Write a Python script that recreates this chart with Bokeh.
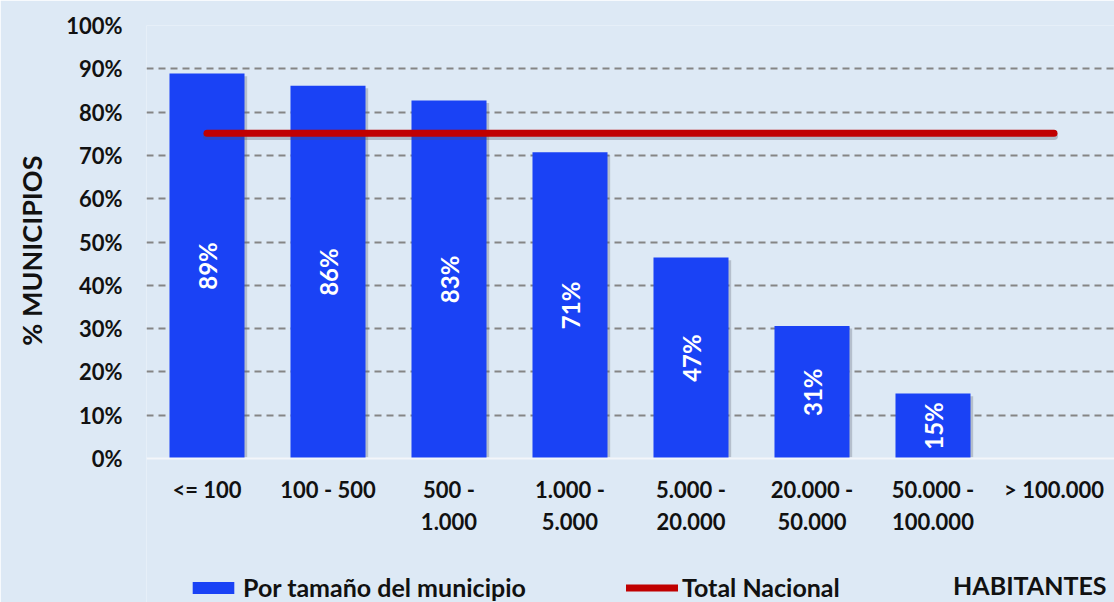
import numpy as np
from bokeh.plotting import figure
from bokeh.models import (Range1d, FixedTicker, Label, Legend, LegendItem,
                          ColumnDataSource, Span, Title)
from bokeh.core.properties import value
from bokeh.embed import file_html
from bokeh.resources import INLINE

# ---- data ----
categories = ["<= 100", "100 - 500", "500 -\n1.000", "1.000 -\n5.000",
              "5.000 -\n20.000", "20.000 -\n50.000", "50.000 -\n100.000", "> 100.000"]
por_tamano = [88.9, 86.1, 82.7, 70.7, 46.4, 30.6, 15.0]      # % municipios (no bar for > 100.000)
bar_labels = ["89%", "86%", "83%", "71%", "47%", "31%", "15%"]
total_nacional = 75.1
y_ticks = [0, 10, 20, 30, 40, 50, 60, 70, 80, 90, 100]
y_tick_labels = ["0%", "10%", "20%", "30%", "40%", "50%", "60%", "70%", "80%", "90%", "100%"]

FONT = "Lato"
BG = "#dde9f5"
BLUE = "#1a42f5"
RED = "#c00000"
TXT = "#111111"

W, H = 1114, 602
LEFT, TOP = 146, 25
PX_PER_UNIT = (458 - TOP) / 100.0          # vertical pixels per percent
y_bottom = -(H - 458) / PX_PER_UNIT        # extend frame down to canvas bottom

# ---- figure ----
p = figure(width=W, height=H, output_backend="svg", toolbar_location=None,
           x_range=Range1d(0, (W - LEFT) / 121.0), y_range=Range1d(y_bottom, 100),
           min_border_left=LEFT, min_border_right=0, min_border_top=TOP, min_border_bottom=0)
p.background_fill_color = BG
p.border_fill_color = BG
p.outline_line_color = None

xs = np.arange(len(categories)) + 0.5
bx = xs[:len(por_tamano)]
vals = np.array(por_tamano)

src = ColumnDataSource(dict(x=bx, top=vals, lab=bar_labels, mid=vals / 2))
shadow = ColumnDataSource(dict(x=bx + 0.022, top=vals - 0.6))

# grid
p.xgrid.visible = False
p.ygrid.ticker = FixedTicker(ticks=y_ticks[1:])
p.ygrid.grid_line_color = "#858585"
p.ygrid.grid_line_width = 2
p.ygrid.grid_line_dash = "7 5"

# x axis baseline
p.add_layout(Span(location=0, dimension="width", line_color="#f3f6fa", line_width=2))

# shadows + bars
p.vbar(x="x", top="top", bottom=0.3, width=0.62, source=shadow,
       fill_color="#6b7380", fill_alpha=0.35, line_color=None)
bars = p.vbar(x="x", top="top", bottom=0, width=0.62, source=src,
              fill_color=BLUE, line_color=None)

p.line(x=[xs[0], xs[-1]], y=[total_nacional - 0.6] * 2, line_color="#4a4f5a",
       line_alpha=0.3, line_width=8, line_cap="round")
nat = p.line(x=[xs[0], xs[-1]], y=[total_nacional] * 2, line_color=RED,
             line_width=7, line_cap="round")

p.text(x="x", y="mid", text="lab", source=src, angle=np.pi / 2,
       text_color="white", text_font=value(FONT), text_font_style="bold",
       text_font_size="24px", text_align="center", text_baseline="middle")

# category labels under the baseline
cat_y = -(475 - 458) / PX_PER_UNIT
p.text(x=xs, y=[cat_y] * len(xs), text=categories, text_color=TXT,
       text_font=value(FONT), text_font_style="bold", text_font_size="22px",
       text_align="center", text_baseline="top", text_line_height=1.2)

# y axis
p.yaxis.ticker = FixedTicker(ticks=y_ticks)
p.yaxis.major_label_overrides = {t: l for t, l in zip(y_ticks, y_tick_labels)}
p.yaxis.axis_line_color = None
p.yaxis.major_tick_line_color = None
p.yaxis.minor_tick_line_color = None
p.yaxis.major_tick_out = 0
p.yaxis.major_tick_in = 0
p.yaxis.major_label_standoff = 24
p.yaxis.major_label_text_font = FONT
p.yaxis.major_label_text_font_style = "bold"
p.yaxis.major_label_text_font_size = "22px"
p.yaxis.major_label_text_color = TXT
p.xaxis.visible = False

# y axis title
ytitle = Title(text="% MUNICIPIOS", align="right", offset=130, standoff=27,
               vertical_align="top", text_line_height=0.8,
               text_font=FONT, text_font_style="bold", text_font_size="27px",
               text_color=TXT)
p.add_layout(ytitle, "left")

# HABITANTES
p.add_layout(Label(x=W - LEFT - 8, y=H - 584, x_units="screen", y_units="screen",
                   text="HABITANTES", text_align="right", text_baseline="middle",
                   text_font=FONT, text_font_style="bold", text_font_size="25px",
                   text_color=TXT))

def make_legend(label, rend, loc):
    return Legend(items=[LegendItem(label=label, renderers=[rend])], location=loc,
                  orientation="horizontal", glyph_width=52, glyph_height=15,
                  label_standoff=4, padding=0, margin=0, border_line_color=None,
                  background_fill_alpha=0, label_text_font=FONT,
                  label_text_font_style="bold", label_text_font_size="25px",
                  label_text_color=TXT)

p.add_layout(make_legend("Por tamaño del municipio", bars, (187 - LEFT, 0)))
p.add_layout(make_legend("Total Nacional", nat, (626 - LEFT, 0)))

open("out.html", "w").write(file_html(p, INLINE))
